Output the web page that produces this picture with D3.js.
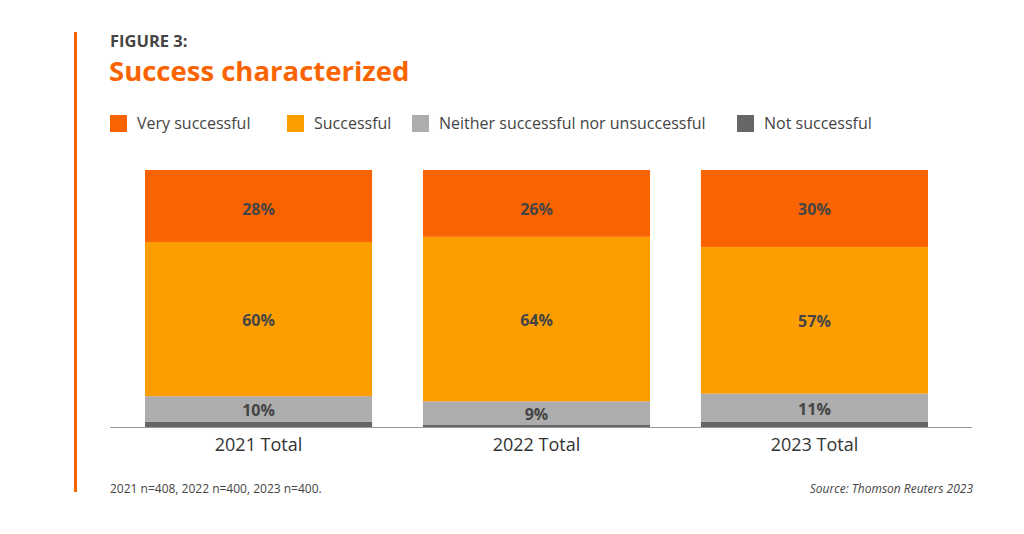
<!DOCTYPE html>
<html>
<head>
<meta charset="utf-8">
<script src="https://cdn.jsdelivr.net/npm/d3@7"></script>
<style>
  body { margin: 0; background: #fff; }
  svg { display: block; font-family: "Open Sans", sans-serif; }
</style>
</head>
<body>
<div id="chart"></div>
<script>
const categories = ["2021 Total", "2022 Total", "2023 Total"];
const seriesNames = ["Very successful", "Successful", "Neither successful nor unsuccessful", "Not successful"];
const verySuccessful = [28, 26, 30];
const successful = [60, 64, 57];
const neither = [10, 9, 11];
const notSuccessful = [2, 1, 2];
const colors = ["#f96400", "#fd9e00", "#adadad", "#666666"];

const width = 1024, height = 534;

const svg = d3.select("#chart").append("svg")
    .attr("width", width)
    .attr("height", height);

// left accent bar
svg.append("rect")
    .attr("x", 74).attr("y", 32)
    .attr("width", 3).attr("height", 460)
    .attr("fill", "#f96400");

svg.append("text")
    .attr("x", 110).attr("y", 47)
    .attr("font-size", 16.5).attr("font-weight", 700)
    .attr("fill", "#444")
    .text("FIGURE 3:");

svg.append("text")
    .attr("x", 109).attr("y", 81)
    .attr("font-size", 27.5).attr("font-weight", 700)
    .attr("fill", "#f96400")
    .text("Success characterized");

// legend
const legendX = [110, 287, 412, 737];
const legend = svg.selectAll(".legend")
    .data(seriesNames)
    .enter().append("g")
    .attr("class", "legend")
    .attr("transform", (d, i) => `translate(${legendX[i]},115)`);

legend.append("rect")
    .attr("width", 17).attr("height", 17)
    .attr("fill", (d, i) => colors[i]);

legend.append("text")
    .attr("x", 27).attr("y", 14)
    .attr("font-size", 16)
    .attr("fill", "#444")
    .text(d => d);

// bars
const x = d3.scaleBand()
    .domain(categories)
    .range([145, 928])
    .paddingInner(0.183)
    .paddingOuter(0);

const y = d3.scaleLinear()
    .domain([0, 100])
    .range([427, 170]);

const rows = categories.map((c, i) => ({
    cat: c,
    "Very successful": verySuccessful[i],
    "Successful": successful[i],
    "Neither successful nor unsuccessful": neither[i],
    "Not successful": notSuccessful[i]
}));

const stack = d3.stack().keys(seriesNames.slice().reverse());
const layers = stack(rows);

const layer = svg.selectAll(".layer")
    .data(layers)
    .enter().append("g")
    .attr("fill", d => colors[seriesNames.indexOf(d.key)]);

layer.selectAll("rect")
    .data(d => d)
    .enter().append("rect")
    .attr("x", d => x(d.data.cat))
    .attr("y", d => y(d[1]))
    .attr("width", x.bandwidth())
    .attr("height", d => y(d[0]) - y(d[1]));

layer.filter(d => d.key !== "Not successful")
    .selectAll("text")
    .data(d => d)
    .enter().append("text")
    .attr("x", d => x(d.data.cat) + x.bandwidth() / 2)
    .attr("y", d => d[1] >= 100 ? y(100) + 45 : (y(d[0]) + y(d[1])) / 2 + 7)
    .attr("text-anchor", "middle")
    .attr("font-size", 16).attr("font-weight", 700)
    .attr("fill", "#444")
    .text(d => (d[1] - d[0]) + "%");

// axis baseline
svg.append("line")
    .attr("x1", 110).attr("x2", 972)
    .attr("y1", 427.5).attr("y2", 427.5)
    .attr("stroke", "#999").attr("stroke-width", 1);

const xAxis = svg.append("g")
    .attr("transform", "translate(0,427)")
    .call(d3.axisBottom(x).tickSize(0).tickPadding(11));
xAxis.select(".domain").remove();
xAxis.selectAll("text")
    .attr("font-size", 18)
    .attr("font-family", "Open Sans, sans-serif")
    .attr("fill", "#333");

svg.append("text")
    .attr("x", 110).attr("y", 493)
    .attr("font-size", 12).attr("fill", "#444")
    .text("2021 n=408, 2022 n=400, 2023 n=400.");

svg.append("text")
    .attr("x", 973).attr("y", 493)
    .attr("text-anchor", "end")
    .attr("font-size", 12).attr("font-style", "italic")
    .attr("fill", "#444")
    .text("Source: Thomson Reuters 2023");
</script>
</body>
</html>
